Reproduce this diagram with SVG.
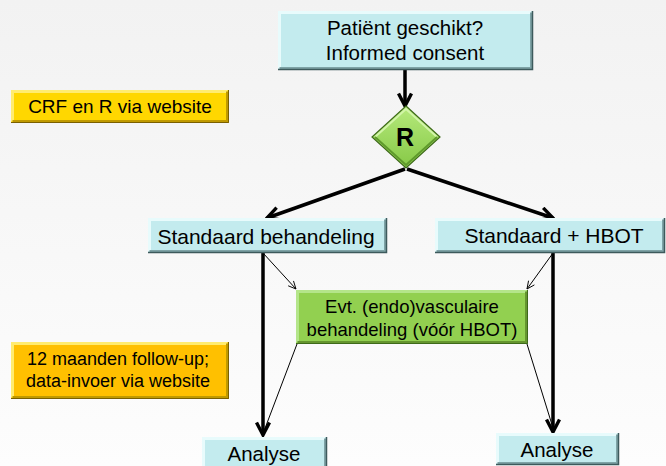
<svg xmlns="http://www.w3.org/2000/svg" width="666" height="466" viewBox="0 0 666 466">
<defs>
<linearGradient id="bg" x1="0" y1="0" x2="0" y2="1"><stop offset="0" stop-color="#f2f2f2"/><stop offset="1" stop-color="#fdfdfd"/></linearGradient>
<linearGradient id="dg" x1="0" y1="0" x2="0" y2="1"><stop offset="0" stop-color="#b6ea7c"/><stop offset="1" stop-color="#86c846"/></linearGradient>
<marker id="ah" viewBox="0 0 16 16" refX="14.5" refY="8" markerWidth="16" markerHeight="16" markerUnits="userSpaceOnUse" orient="auto"><path d="M2,1.5 L14.5,8 L2,14.5" fill="none" stroke="#000" stroke-width="3.4"/></marker>
<marker id="ahs" viewBox="0 0 10 10" refX="9.5" refY="5" markerWidth="9" markerHeight="9" markerUnits="userSpaceOnUse" orient="auto"><path d="M1,1 L9.5,5 L1,9" fill="none" stroke="#000" stroke-width="1"/></marker>
</defs>
<style>
text{font-family:"Liberation Sans",Arial,sans-serif;fill:#000;text-anchor:middle}
.cy{fill:#c3ebee}
.gr{fill:#92d050}
.y1{fill:#ffd700}
.y2{fill:#ffc000}
.hlc{fill:none;stroke:#e8fbfc;stroke-width:3}
.shc{fill:none;stroke:#7ea3a6;stroke-width:3}
.edc{fill:none;stroke:#3d5a5c;stroke-width:1.5}
.hlg{fill:none;stroke:#b4e58a;stroke-width:3}
.shg{fill:none;stroke:#65952f;stroke-width:3}
.edg{fill:none;stroke:#3e6a1a;stroke-width:1}
.hly{fill:none;stroke:#ffec70;stroke-width:3}
.shy{fill:none;stroke:#c09a00;stroke-width:3}
.edy{fill:none;stroke:#7a6000;stroke-width:1}
.thick{fill:none;stroke:#000;stroke-width:3.5}
.thin{fill:none;stroke:#000;stroke-width:1}
</style>
<rect width="666" height="466" fill="url(#bg)"/>
<g id="connectors">
<line class="thick" x1="405" y1="70" x2="405" y2="106" marker-end="url(#ah)"/>
<line class="thick" x1="405" y1="169" x2="267" y2="218" marker-end="url(#ah)"/>
<line class="thick" x1="407" y1="169" x2="553" y2="218" marker-end="url(#ah)"/>
<line class="thin" x1="263" y1="253" x2="296" y2="289" marker-end="url(#ahs)"/>
<line class="thin" x1="553" y1="253" x2="527" y2="289" marker-end="url(#ahs)"/>
<line class="thick" x1="263" y1="253" x2="263" y2="435" marker-end="url(#ah)"/>
<line class="thick" x1="553" y1="253" x2="553" y2="432" marker-end="url(#ah)"/>
<line class="thin" x1="297" y1="344" x2="264" y2="431"/>
<line class="thin" x1="527" y1="344" x2="553" y2="428"/>
</g>
<g id="n-patient">
<rect class="cy" x="278" y="11" width="255" height="59"/>
<path class="hlc" d="M279.5,68.5 V12.5 H531.5"/>
<path class="shc" d="M279.5,68.5 H531.5 V12.5"/>
<path class="edc" d="M278,69.5 H532.5 V11"/>
<text x="405" y="35" font-size="20.5">Patiënt geschikt?</text>
<text x="405" y="60" font-size="20.5">Informed consent</text>
</g>
<g id="n-r">
<polygon points="406,106 440,137 406,168 372,137" fill="url(#dg)" stroke="#3e6a1a" stroke-width="1.2"/>
<polyline points="375,137 406,109 437,137" fill="none" stroke="#d2f5a8" stroke-width="2"/>
<polyline points="375,137 406,165 437,137" fill="none" stroke="#5f9a2c" stroke-width="2"/>
<text x="405" y="146" font-size="25" font-weight="bold">R</text>
</g>
<g id="n-crf">
<rect class="y1" x="11" y="90" width="218" height="33"/>
<path class="hly" d="M12.5,121.5 V91.5 H227.5"/>
<path class="shy" d="M12.5,121.5 H227.5 V91.5"/>
<path class="edy" d="M11,122.5 H228.5 V90"/>
<text x="120" y="113" font-size="19">CRF en R via website</text>
</g>
<g id="n-std">
<rect class="cy" x="148" y="218" width="239" height="35"/>
<path class="hlc" d="M149.5,251.5 V219.5 H385.5"/>
<path class="shc" d="M149.5,251.5 H385.5 V219.5"/>
<path class="edc" d="M148,252.5 H386.5 V218"/>
<text x="266" y="244" font-size="21">Standaard behandeling</text>
</g>
<g id="n-hbot">
<rect class="cy" x="435" y="218" width="230" height="35"/>
<path class="hlc" d="M436.5,251.5 V219.5 H663.5"/>
<path class="shc" d="M436.5,251.5 H663.5 V219.5"/>
<path class="edc" d="M435,252.5 H664.5 V218"/>
<text x="554" y="243" font-size="21">Standaard + HBOT</text>
</g>
<g id="n-vasc">
<rect class="gr" x="296" y="290" width="232" height="54"/>
<path class="hlg" d="M297.5,342.5 V291.5 H526.5"/>
<path class="shg" d="M297.5,342.5 H526.5 V291.5"/>
<path class="edg" d="M296,343.5 H527.5 V290"/>
<text x="412" y="313" font-size="18.5">Evt. (endo)vasculaire</text>
<text x="412" y="336" font-size="18.5">behandeling (vóór HBOT)</text>
</g>
<g id="n-follow">
<rect class="y2" x="11" y="342" width="218" height="57"/>
<path class="hly" d="M12.5,397.5 V343.5 H227.5"/>
<path class="shy" d="M12.5,397.5 H227.5 V343.5"/>
<path class="edy" d="M11,398.5 H228.5 V342"/>
<text x="118" y="365" font-size="18">12 maanden follow-up;</text>
<text x="118" y="387" font-size="18">data-invoer via website</text>
</g>
<g id="n-analyse-l">
<rect class="cy" x="202" y="437" width="125" height="34"/>
<path class="hlc" d="M203.5,470 V438.5 H325.5"/>
<path class="shc" d="M325.5,438.5 V470"/>
<path class="edc" d="M326.5,437 V470"/>
<text x="264" y="461" font-size="20.5">Analyse</text>
</g>
<g id="n-analyse-r">
<rect class="cy" x="496" y="433" width="123" height="32"/>
<path class="hlc" d="M497.5,463.5 V434.5 H617.5"/>
<path class="shc" d="M497.5,463.5 H617.5 V434.5"/>
<path class="edc" d="M496,464.5 H618.5 V433"/>
<text x="557" y="457" font-size="20.5">Analyse</text>
</g>
</svg>
